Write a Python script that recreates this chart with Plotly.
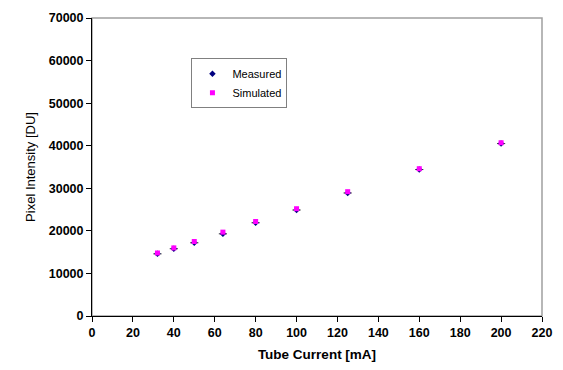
import plotly.graph_objects as go

tube_current = [32, 40, 50, 64, 80, 100, 125, 160, 200]
measured = [14600, 15800, 17200, 19300, 21900, 24900, 28900, 34400, 40500]
simulated = [14800, 16000, 17500, 19700, 22200, 25200, 29200, 34600, 40700]
x_err = [2, 2, 2, 2, 2, 2, 2, 2, 2]

fig = go.Figure()
fig.add_trace(go.Scatter(
    x=tube_current, y=measured, mode="markers", name="Measured",
    marker=dict(symbol="diamond", size=5, color="#000080"),
    error_x=dict(type="data", array=x_err, color="#333333", thickness=1, width=0),
))
fig.add_trace(go.Scatter(
    x=tube_current, y=simulated, mode="markers", name="Simulated",
    marker=dict(symbol="square", size=5, color="#FF00FF"),
))

fig.add_shape(type="rect", xref="paper", yref="paper", x0=0, y0=0, x1=1, y1=1,
              line=dict(color="#A0A0A0", width=1.5), layer="below")

axis_font = dict(family="Liberation Sans, Arial, sans-serif", size=12.5, color="black", weight="bold")
fig.update_layout(
    width=563, height=370,
    margin=dict(l=92, r=14, t=11, b=54),
    paper_bgcolor="white", plot_bgcolor="white",
    showlegend=True,
    legend=dict(x=0.221, y=0.865, xanchor="left", yanchor="top",
                bgcolor="white", bordercolor="#808080", borderwidth=1,
                font=dict(family="Liberation Sans, Arial, sans-serif", size=11, color="black"),
                itemwidth=30, tracegroupgap=0),
    xaxis=dict(range=[0, 220], dtick=20, showgrid=False, zeroline=False,
               showline=True, linecolor="black", linewidth=1,
               ticks="outside", ticklen=5, tickcolor="black",
               tickfont=axis_font,
               title=dict(text="Tube Current [mA]", standoff=10,
                          font=dict(family="Liberation Sans, Arial, sans-serif", size=13.5, color="black", weight="bold"))),
    yaxis=dict(range=[0, 70000], dtick=10000, tickformat="d", showgrid=False, zeroline=False,
               showline=True, linecolor="black", linewidth=1,
               ticks="outside", ticklen=5, tickcolor="black",
               tickfont=axis_font,
               title=dict(text="Pixel Intensity [DU]", standoff=10,
                          font=dict(family="Liberation Sans Narrow, Arial Narrow, Liberation Sans, sans-serif", size=13, color="black"))),
)

fig.write_html("out.html")
